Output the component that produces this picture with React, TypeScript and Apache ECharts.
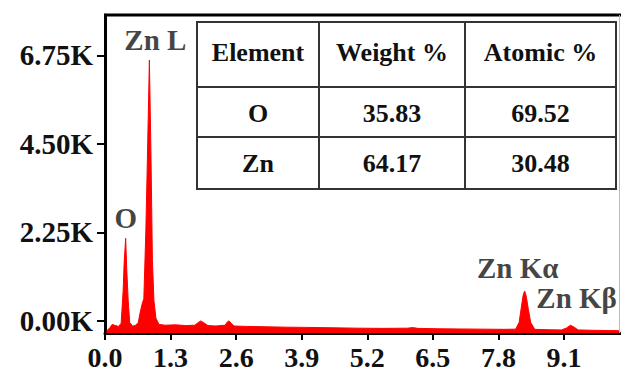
import React, { useEffect, useRef } from "react";
import * as echarts from "echarts";

// Spectrum (energy keV, counts)
const energy = [
  0.03, 0.1, 0.14, 0.2, 0.27, 0.32, 0.36, 0.38, 0.41, 0.43, 0.46, 0.49, 0.55, 0.61, 0.66, 0.69,
  0.73, 0.77, 0.81, 0.84, 0.88, 0.91, 0.94, 0.97, 1.01, 1.07, 1.2, 1.4, 1.6, 1.78, 1.85, 1.9,
  1.96, 2.04, 2.2, 2.38, 2.43, 2.46, 2.5, 2.56, 2.8, 3.2, 3.6, 4.0, 4.5, 5.0, 5.5, 6.0, 6.1,
  6.2, 6.6, 7.0, 7.5, 7.9, 8.14, 8.21, 8.26, 8.29, 8.32, 8.35, 8.39, 8.44, 8.52, 8.8, 9.05,
  9.15, 9.23, 9.3, 9.38, 9.7, 10.0, 10.21,
];
const counts = [
  -260, -170, -90, -115, -140, -60, 780, 1490, 2100, 1340, 520, -40, -135, -110, -40, 170,
  400, 570, 2300, 4090, 6630, 4340, 1540, 520, 70, -90, -110, -100, -120, -110, -40, 0,
  -50, -120, -130, -110, -20, 0, -60, -130, -140, -150, -160, -165, -175, -185, -190, -185, -170,
  -190, -200, -205, -210, -215, -210, -40, 400, 650, 760, 630, 320, -40, -215, -225, -230,
  -180, -110, -160, -230, -240, -245, -250,
];

// Peak annotations
const peakNames = ["O", "Zn L", "Zn Kα", "Zn Kβ"];
const peakEnergy = [0.41, 0.88, 8.32, 9.23];
const peakCounts = [2100, 6630, 760, -110];

// Axis ticks
const xTicks = [0, 1.3, 2.6, 3.9, 5.2, 6.5, 7.8, 9.1];
const yTicks = [0, 2250, 4500, 6750];

// Table
const tableHeader = ["Element", "Weight %", "Atomic %"];
const tableElements = ["O", "Zn"];
const tableWeight = ["35.83", "64.17"];
const tableAtomic = ["69.52", "30.48"];

const FONT = "Liberation Serif";

export default function App() {
  const ref = useRef<HTMLDivElement>(null);
  useEffect(() => {
    if (!ref.current) return;
    const chart = echarts.init(ref.current, undefined, { renderer: "svg" });

    const peakOffsets = [
      [0, -20],
      [6, -20],
      [-7, -23],
      [6, -27],
    ];

    // frame (top and right borders of the plot box)
    const frameGraphics: any[] = [
      {
        type: "line",
        shape: { x1: 104, y1: 15, x2: 621, y2: 15 },
        style: { stroke: "#000", lineWidth: 3 },
        z: 20,
      },
      {
        type: "line",
        shape: { x1: 619.5, y1: 15, x2: 619.5, y2: 333 },
        style: { stroke: "#bbb", lineWidth: 1 },
        z: 20,
      },
    ];

    const colX = [197, 319, 465, 616];
    const rowY = [22, 87, 137, 189];
    const lineStyle = { stroke: "#333", lineWidth: 2 };
    const tableGraphics: any[] = [
      {
        type: "rect",
        shape: { x: colX[0], y: rowY[0], width: colX[3] - colX[0], height: rowY[3] - rowY[0] },
        style: { fill: "#fff", stroke: "#333", lineWidth: 2 },
        z: 10,
      },
    ];
    [1, 2].forEach((i) => {
      tableGraphics.push({
        type: "line",
        shape: { x1: colX[i], y1: rowY[0], x2: colX[i], y2: rowY[3] },
        style: lineStyle,
        z: 11,
      });
      tableGraphics.push({
        type: "line",
        shape: { x1: colX[0], y1: rowY[i], x2: colX[3], y2: rowY[i] },
        style: lineStyle,
        z: 11,
      });
    });
    const rows = [tableHeader, ...tableElements.map((e, i) => [e, tableWeight[i], tableAtomic[i]])];
    const rowCenters = [52, 113, 163];
    rows.forEach((r, ri) => {
      r.forEach((txt, ci) => {
        tableGraphics.push({
          type: "text",
          x: (colX[ci] + colX[ci + 1]) / 2,
          y: rowCenters[ri],
          z: 12,
          style: {
            text: txt,
            fill: "#111",
            fontFamily: FONT,
            fontWeight: "bold",
            fontSize: 26,
            align: "center",
            verticalAlign: "middle",
          },
        });
      });
    });

    const labelFont = {
      color: "#111",
      fontFamily: FONT,
      fontWeight: "bold" as const,
    };

    chart.setOption({
      animation: false,
      backgroundColor: "#fff",
      grid: { left: 105, right: 1, top: 15, bottom: 46 },
      xAxis: {
        type: "value",
        min: 0,
        max: 10.21,
        axisLine: { show: true, onZero: false, lineStyle: { color: "#000", width: 3 } },
        axisTick: {
          show: true,
          customValues: xTicks,
          length: 7,
          lineStyle: { color: "#000", width: 2 },
        },
        axisLabel: {
          customValues: xTicks,
          formatter: (v: number) => v.toFixed(1),
          ...labelFont,
          fontSize: 28,
          margin: 10,
        },
        splitLine: { show: false },
      },
      yAxis: {
        type: "value",
        min: -308,
        max: 7778,
        axisLine: { show: true, onZero: false, lineStyle: { color: "#000", width: 3 } },
        axisTick: {
          show: true,
          customValues: yTicks,
          length: 8,
          lineStyle: { color: "#000", width: 2 },
        },
        axisLabel: {
          customValues: yTicks,
          formatter: (v: number) => (v / 1000).toFixed(2) + "K",
          ...labelFont,
          fontSize: 29,
          margin: 12,
        },
        splitLine: { show: false },
      },
      series: [
        {
          type: "line",
          data: energy.map((e, i) => [e, counts[i]]),
          symbol: "none",
          lineStyle: { color: "#ff0000", width: 1 },
          areaStyle: { color: "#ff0000", opacity: 1, origin: "start" },
          z: 2,
        },
        {
          type: "scatter",
          symbolSize: 0,
          data: peakNames.map((n, i) => ({
            name: n,
            value: [peakEnergy[i], peakCounts[i]],
            label: {
              show: true,
              position: "inside",
              offset: peakOffsets[i],
              formatter: "{b}",
              ...labelFont,
              fontSize: 29,
            },
          })),
          z: 3,
        },
      ],
      graphic: [...frameGraphics, ...tableGraphics],
    });
    return () => chart.dispose();
  }, []);
  return (
    <div
      ref={ref}
      style={{ position: "fixed", left: 0, top: 0, width: 621, height: 379, background: "#fff" }}
    />
  );
}
